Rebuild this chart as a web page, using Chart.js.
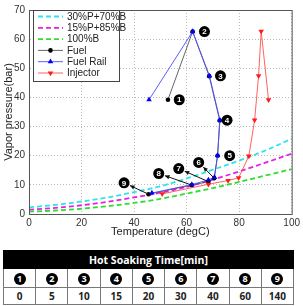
<!DOCTYPE html>
<html>
<head>
<meta charset="utf-8">
<script src="https://cdn.jsdelivr.net/npm/chart.js@4.4.1/dist/chart.umd.min.js"></script>
<style>
body { margin: 0; background: #fff; width: 303px; height: 306px; overflow: hidden; position: relative; }
#box { position: absolute; left: 0; top: 0; width: 303px; height: 245px; }
table { position: absolute; left: 3px; top: 250px; width: 291px; border-collapse: collapse; table-layout: fixed;
        font-family: "Open Sans", "Liberation Sans", sans-serif; font-size: 10px; font-weight: bold; color: #222; }
td { border: 1px solid #777; text-align: center; padding: 0; }
tr.head td { background: #000; color: #fff; height: 17px; font-size: 10.5px; border-color: #000; }
tr.nums td { height: 18px; }
tr.mins td { height: 16px; }
.num { display: inline-block; width: 12px; height: 12px; border-radius: 50%; background: #000; color: #fff;
       font-size: 9px; line-height: 12px; vertical-align: middle; }
</style>
</head>
<body>
<div id="box"><canvas id="grafico"></canvas></div>
<table id="tabela">
  <tr class="head"><td colspan="9">Hot Soaking Time[min]</td></tr>
  <tr class="nums" id="linhaNums"></tr>
  <tr class="mins" id="linhaMins"></tr>
</table>
<script>
// curvas de pressao de vapor
const temps = [0, 10, 20, 30, 40, 50, 60, 70, 80, 90, 100];
const p30 = [2.3, 3.1, 4.3, 5.7, 7.5, 9.5, 12.2, 15.2, 18.3, 21.8, 25.8];
const p15 = [1.5, 2.1, 3.0, 4.2, 5.7, 7.3, 9.3, 11.8, 14.6, 17.6, 20.7];
const p100 = [0.8, 1.2, 1.8, 2.7, 3.8, 5.2, 7.0, 8.9, 11.0, 13.2, 15.4];

// medicoes (ordem = tempo de soaking)
const fuelT = [52.9, 62.3, 68.6, 72.6, 71.8, 70.5, 68.3, 62.0, 45.5];
const fuelP = [39.2, 62.6, 47.3, 32.1, 20.0, 12.3, 11.1, 9.9, 6.8];
const railT = [45.7, 62.3, 68.7, 72.7, 71.8, 70.6, 68.3, 62.0, 46.8];
const railP = [39.2, 62.6, 47.4, 32.2, 20.1, 12.6, 11.7, 10.1, 7.2];
const injT = [91.2, 88.4, 87.4, 85.9, 83.7, 79.8, 75.8, 68.3, 50.7];
const injP = [39.2, 62.7, 47.4, 32.2, 19.9, 12.4, 11.5, 10.2, 6.9];

// etiquetas numeradas
const tagNo = ['1', '2', '3', '4', '5', '6', '7', '8', '9'];
const tagT = [57.2, 66.8, 72.9, 75.4, 76.4, 64.6, 57.0, 49.4, 36.2];
const tagP = [39.2, 62.6, 47.4, 32.2, 20.0, 17.7, 15.6, 13.9, 10.7];
const soakMin = [0, 5, 10, 15, 20, 30, 40, 60, 140];

const xTicks = [0, 20, 40, 60, 80, 100];
const yTicks = [0, 10, 20, 30, 40, 50, 60, 70];

function pontos(xs, ys) {
    return xs.map(function (v, i) { return { x: v, y: ys[i] }; });
}

// tabela
linhaNums.innerHTML = tagNo.map(function (n) { return '<td><span class="num">' + n + '</span></td>'; }).join('');
linhaMins.innerHTML = soakMin.map(function (m) { return '<td>' + m + '</td>'; }).join('');

const curva = function (label, ys, cor) {
    return {
        label: label, data: pontos(temps, ys), showLine: true,
        borderColor: cor, backgroundColor: cor, borderWidth: 1.8, borderDash: [5, 3],
        pointRadius: 0, cubicInterpolationMode: 'monotone', order: 5
    };
};

const quadro = {
    id: 'quadro',
    afterDatasetsDraw: function (chart) {
        const ctx = chart.ctx;
        const a = chart.chartArea;
        const sx = chart.scales.x, sy = chart.scales.y;
        ctx.save();
        ctx.strokeStyle = '#555';
        ctx.lineWidth = 1;
        ctx.strokeRect(a.left + 0.5, a.top + 0.5, a.right - a.left, a.bottom - a.top);

        // etiquetas com setas
        for (let i = 0; i < tagNo.length; i++) {
            const lx = sx.getPixelForValue(tagT[i]);
            const ly = sy.getPixelForValue(tagP[i]);
            if (i >= 5) {
                const px = sx.getPixelForValue(fuelT[i]);
                const py = sy.getPixelForValue(fuelP[i]);
                const ang = Math.atan2(ly - py, lx - px);
                const ex = lx - Math.cos(ang) * 6.5, ey = ly - Math.sin(ang) * 6.5;
                ctx.strokeStyle = '#111';
                ctx.lineWidth = 1;
                ctx.beginPath();
                ctx.moveTo(px, py);
                ctx.lineTo(ex, ey);
                ctx.stroke();
                ctx.fillStyle = '#111';
                ctx.beginPath();
                ctx.moveTo(ex, ey);
                ctx.lineTo(ex - Math.cos(ang - 0.45) * 5, ey - Math.sin(ang - 0.45) * 5);
                ctx.lineTo(ex - Math.cos(ang + 0.45) * 5, ey - Math.sin(ang + 0.45) * 5);
                ctx.closePath();
                ctx.fill();
            }
            ctx.fillStyle = '#000';
            ctx.beginPath();
            ctx.arc(lx, ly, 5.5, 0, Math.PI * 2);
            ctx.fill();
            ctx.fillStyle = '#fff';
            ctx.font = 'bold 8px "Liberation Sans", Arial, sans-serif';
            ctx.textAlign = 'center';
            ctx.textBaseline = 'middle';
            ctx.fillText(tagNo[i], lx, ly + 0.5);
        }

        // legenda
        ctx.fillStyle = '#fff';
        ctx.fillRect(33, 10, 86, 71);
        ctx.strokeStyle = '#444';
        ctx.lineWidth = 1;
        ctx.strokeRect(33.5, 10.5, 86, 71);
        ctx.font = '10px "Liberation Sans", Arial, sans-serif';
        ctx.textAlign = 'left';
        ctx.textBaseline = 'middle';
        chart.data.datasets.forEach(function (ds, i) {
            const y = 16.5 + i * 11.3;
            ctx.strokeStyle = ds.borderColor;
            ctx.lineWidth = ds.borderWidth;
            ctx.setLineDash(ds.borderDash || []);
            ctx.beginPath();
            ctx.moveTo(38, y);
            ctx.lineTo(63, y);
            ctx.stroke();
            ctx.setLineDash([]);
            if (ds.pointRadius > 0) {
                ctx.fillStyle = ds.pointBackgroundColor;
                ctx.strokeStyle = ds.pointBackgroundColor;
                Chart.helpers.drawPoint(ctx, {
                    pointStyle: ds.pointStyle, rotation: ds.pointRotation || 0,
                    radius: ds.pointRadius, borderWidth: 0
                }, 50.5, y);
            }
            ctx.fillStyle = '#222';
            ctx.fillText(ds.label, 67, y + 0.5);
        });
        ctx.restore();
    }
};

new Chart(document.getElementById('grafico'), {
    type: 'scatter',
    data: {
        datasets: [
            curva('30%P+70%B', p30, '#2fe3ea'),
            curva('15%P+85%B', p15, '#e61fe6'),
            curva('100%B', p100, '#2fdd2f'),
            {
                label: 'Fuel', data: pontos(fuelT, fuelP), showLine: true,
                borderColor: '#555', borderWidth: 0.9, pointStyle: 'circle', pointRadius: 2.3,
                pointBackgroundColor: '#000', pointBorderWidth: 0, order: 3
            },
            {
                label: 'Fuel Rail', data: pontos(railT, railP), showLine: true,
                borderColor: '#4a4aff', borderWidth: 0.9, pointStyle: 'triangle', pointRadius: 3.2,
                pointBackgroundColor: '#0000ff', pointBorderWidth: 0, order: 1
            },
            {
                label: 'Injector', data: pontos(injT, injP), showLine: true,
                borderColor: '#ff5050', borderWidth: 0.9, pointStyle: 'triangle', pointRotation: 180,
                pointRadius: 3.2, pointBackgroundColor: '#ff1a1a', pointBorderWidth: 0, order: 2
            }
        ]
    },
    options: {
        responsive: true,
        maintainAspectRatio: false,
        animation: false,
        layout: { padding: { top: 6, right: 10, left: 0, bottom: 0 } },
        plugins: { legend: { display: false }, tooltip: { enabled: false } },
        scales: {
            x: {
                type: 'linear', min: 0, max: 100,
                afterFit: function (s) { s.height = 31; },
                afterBuildTicks: function (s) { s.ticks = xTicks.map(function (v) { return { value: v }; }); },
                grid: { color: '#bbb', drawTicks: false },
                border: { display: true, color: '#555', dash: [1, 2] },
                ticks: { padding: 3, color: '#333', font: { family: '"Liberation Sans", Arial, sans-serif', size: 10 } },
                title: {
                    display: true, text: 'Temperature (degC)', color: '#222', padding: { top: 0, bottom: 6 },
                    font: { family: '"Liberation Sans", Arial, sans-serif', size: 11 }
                }
            },
            y: {
                type: 'linear', min: 0, max: 70,
                afterFit: function (s) { s.width = 29; },
                afterBuildTicks: function (s) { s.ticks = yTicks.map(function (v) { return { value: v }; }); },
                grid: { color: '#bbb', drawTicks: false },
                border: { display: true, color: '#555', dash: [1, 2] },
                ticks: { padding: 4, color: '#333', font: { family: '"Liberation Sans", Arial, sans-serif', size: 10 } },
                title: {
                    display: true, text: 'Vapor pressure(bar)', color: '#222', padding: { top: 2, bottom: 0 },
                    font: { family: '"Liberation Sans", Arial, sans-serif', size: 11 }
                }
            }
        }
    },
    plugins: [quadro]
});
</script>
</body>
</html>
